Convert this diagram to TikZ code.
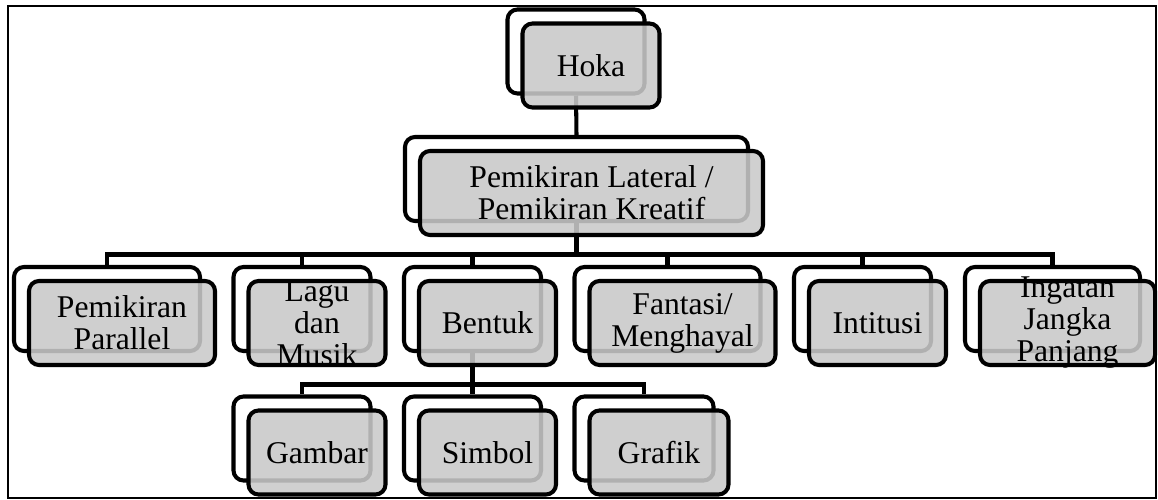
\documentclass[tikz,border=0pt]{standalone}
\usepackage{fontspec}
\setmainfont{Liberation Serif}
\usepackage{tikz}
\tikzset{
 back/.style = {draw, line width = 2.3pt, rounded corners = .2cm, fill = white, minimum height = 1.68cm, inner sep = 0pt},
 front/.style = {back, fill = black!21, fill opacity = .88},
 txt/.style = {align = center, inner sep = 0pt, font = \fontsize{18}{18.2}\selectfont},
 conn/.style = {line width = 2.3pt},
}
\begin{document}
\begin{tikzpicture}
\useasboundingbox (0,0) rectangle (23.16,-10);
\begin{scope}
\node[back, minimum width = 2.74cm] (hoka) at (11.52,-1.03) {};
\node[back, minimum width = 6.86cm] (lateral) at (11.53,-3.58) {};
\node[back, minimum width = 3.72cm] (parallel) at (2.14,-6.18) {};
\node[back, minimum width = 2.74cm] (lagu) at (6.04,-6.18) {};
\node[back, minimum width = 2.74cm] (bentuk) at (9.45,-6.18) {};
\node[back, minimum width = 3.72cm] (fantasi) at (13.35,-6.18) {};
\node[back, minimum width = 2.74cm] (intitusi) at (17.25,-6.18) {};
\node[back, minimum width = 3.50cm] (ingatan) at (21.05,-6.18) {};
\node[back, minimum width = 2.74cm] (gambar) at (6.04,-8.77) {};
\node[back, minimum width = 2.74cm] (simbol) at (9.45,-8.77) {};
\node[back, minimum width = 2.78cm] (grafik) at (12.88,-8.77) {};
\draw[conn] (hoka.south) -- (lateral.north);
\draw[conn] (lateral.south) -- ++(0,-.63) -| (parallel.north);
\draw[conn] (lateral.south) -- ++(0,-.63) -| (lagu.north);
\draw[conn] (lateral.south) -- ++(0,-.63) -| (bentuk.north);
\draw[conn] (lateral.south) -- ++(0,-.63) -| (fantasi.north);
\draw[conn] (lateral.south) -- ++(0,-.63) -| (intitusi.north);
\draw[conn] (lateral.south) -- ++(0,-.63) -| (ingatan.north);
\draw[conn] (bentuk.south) -- ++(0,-.63) -| (gambar.north);
\draw[conn] (bentuk.south) -- ++(0,-.63) -| (simbol.north);
\draw[conn] (bentuk.south) -- ++(0,-.63) -| (grafik.north);
\node[front, minimum width = 2.74cm] (hokaF) at ([shift={(.3,-.28)}]hoka.center) {};
\node[front, minimum width = 6.86cm] (lateralF) at ([shift={(.3,-.28)}]lateral.center) {};
\node[front, minimum width = 3.72cm] (parallelF) at ([shift={(.3,-.28)}]parallel.center) {};
\node[front, minimum width = 2.74cm] (laguF) at ([shift={(.3,-.28)}]lagu.center) {};
\node[front, minimum width = 2.74cm] (bentukF) at ([shift={(.3,-.28)}]bentuk.center) {};
\node[front, minimum width = 3.72cm] (fantasiF) at ([shift={(.3,-.28)}]fantasi.center) {};
\node[front, minimum width = 2.74cm] (intitusiF) at ([shift={(.3,-.28)}]intitusi.center) {};
\node[front, minimum width = 3.50cm] (ingatanF) at ([shift={(.3,-.28)}]ingatan.center) {};
\node[front, minimum width = 2.74cm] (gambarF) at ([shift={(.3,-.28)}]gambar.center) {};
\node[front, minimum width = 2.74cm] (simbolF) at ([shift={(.3,-.28)}]simbol.center) {};
\node[front, minimum width = 2.78cm] (grafikF) at ([shift={(.3,-.28)}]grafik.center) {};
\node[txt] (hokaT) at (hokaF) {Hoka};
\node[txt] (lateralT) at (lateralF) {Pemikiran Lateral /\\Pemikiran Kreatif};
\node[txt] (parallelT) at (parallelF) {Pemikiran\\Parallel};
\node[txt] (laguT) at (laguF) {Lagu\\dan\\Musik};
\node[txt] (bentukT) at (bentukF) {Bentuk};
\node[txt] (fantasiT) at (fantasiF) {Fantasi/\\Menghayal};
\node[txt] (intitusiT) at (intitusiF) {Intitusi};
\node[txt] (ingatanT) at (ingatanF) {Ingatan\\Jangka\\Panjang};
\node[txt] (gambarT) at (gambarF) {Gambar};
\node[txt] (simbolT) at (simbolF) {Simbol};
\node[txt] (grafikT) at (grafikF) {Grafik};
\draw[line width = 1.4pt] (.16,-.12) rectangle (23.12,-9.96);
\end{scope}
\end{tikzpicture}
\end{document}
